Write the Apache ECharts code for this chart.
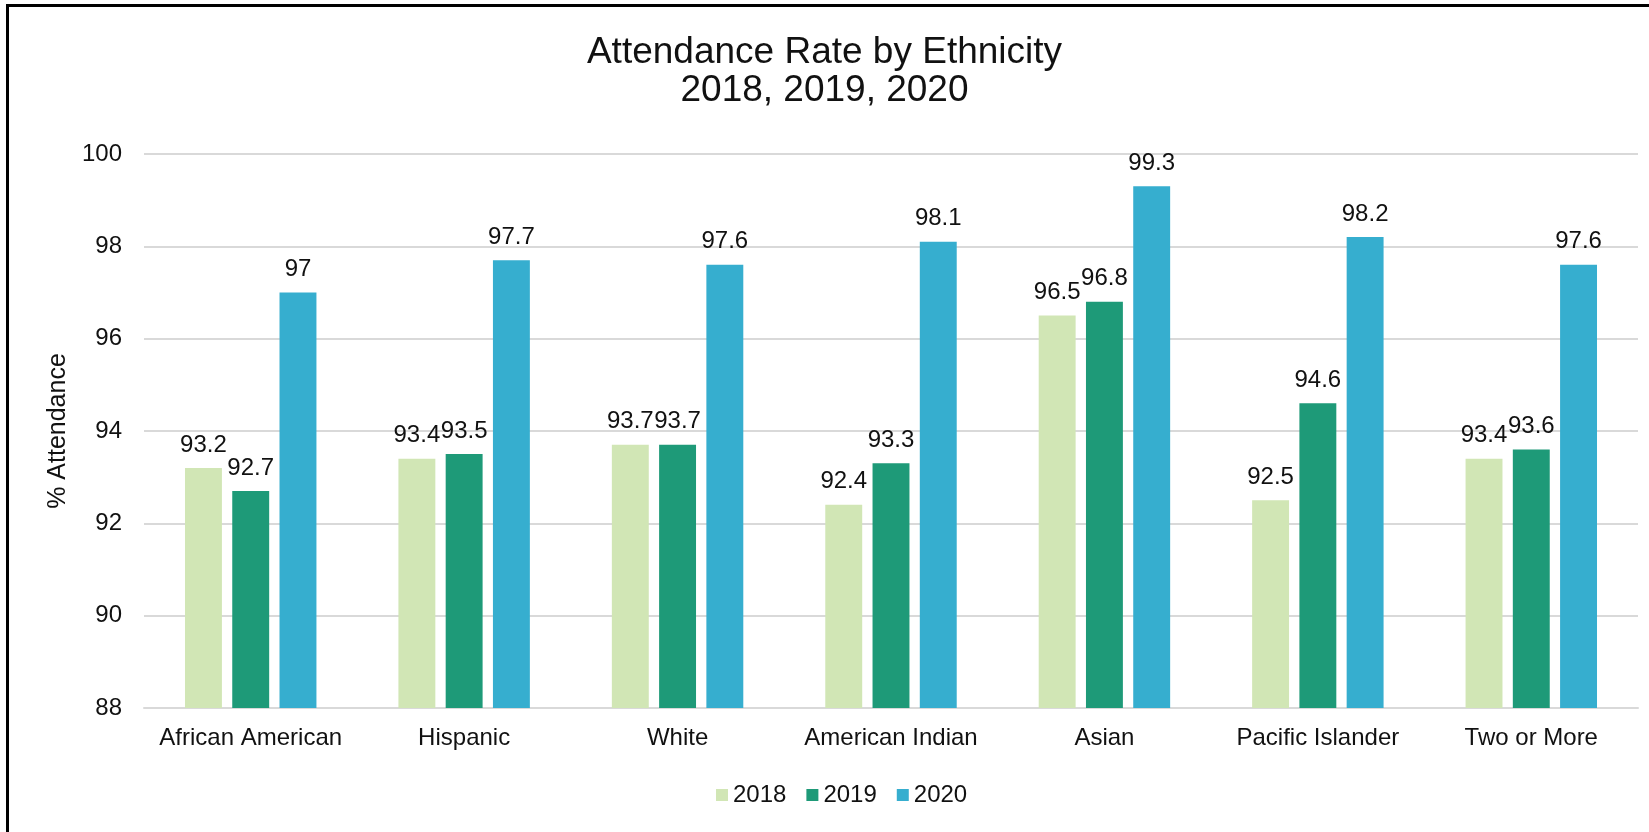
<!DOCTYPE html>
<html>
<head>
<meta charset="utf-8">
<title>Attendance Rate by Ethnicity</title>
<script src="https://cdn.jsdelivr.net/npm/echarts@6/dist/echarts.min.js"></script>
<style>
  html, body { margin: 0; padding: 0; background: #fff; }
  #att_chart { width: 1649px; height: 832px; }
</style>
</head>
<body>
<div id="att_chart"></div>
<script>
  // categories + values
  let groups = ['African American', 'Hispanic', 'White', 'American Indian', 'Asian', 'Pacific Islander', 'Two or More'];
  let years = ['2018', '2019', '2020'];
  let rate2018 = [93.2, 93.4, 93.7, 92.4, 96.5, 92.5, 93.4];
  let rate2019 = [92.7, 93.5, 93.7, 93.3, 96.8, 94.6, 93.6];
  let rate2020 = [97, 97.7, 97.6, 98.1, 99.3, 98.2, 97.6];

  let color = ['#d1e6b5', '#1e9a78', '#36aecf'];
  let font = "'Liberation Sans', Arial, sans-serif";

  let chart = echarts.init(document.getElementById('att_chart'));

  function barSeries(name, data, idx) {
    return {
      name: name,
      type: 'bar',
      barWidth: '17.3%',
      barGap: '28%',
      itemStyle: { color: color[idx] },
      label: {
        show: true,
        position: 'top',
        distance: 11,
        color: '#111',
        fontSize: 24,
        fontFamily: font
      },
      data: data
    };
  }

  let option = {
    backgroundColor: '#fff',
    animation: false,
    title: {
      text: 'Attendance Rate by Ethnicity\n2018, 2019, 2020',
      left: 'center',
      top: 29,
      textStyle: {
        color: '#111',
        fontSize: 37,
        lineHeight: 38,
        fontWeight: 'normal',
        fontFamily: font
      }
    },
    legend: {
      bottom: 20,
      left: 711,
      icon: 'rect',
      itemWidth: 12,
      itemHeight: 12,
      itemGap: 20,
      textStyle: { color: '#111', fontSize: 24, fontFamily: font },
      data: years
    },
    grid: {
      left: 144,
      right: 11,
      top: 154,
      bottom: 124
    },
    xAxis: {
      type: 'category',
      data: groups,
      axisTick: { show: false },
      axisLine: { lineStyle: { color: '#d9d9d9', width: 2 } },
      axisLabel: {
        interval: 0,
        margin: 18,
        color: '#111',
        fontSize: 24,
        fontFamily: font
      }
    },
    yAxis: {
      type: 'value',
      min: 88,
      max: 100,
      interval: 2,
      name: '% Attendance',
      nameLocation: 'middle',
      nameGap: 71,
      nameTextStyle: { color: '#111', fontSize: 25, fontFamily: font },
      axisLine: { show: false },
      axisTick: { show: false },
      splitLine: { lineStyle: { color: '#d9d9d9', width: 2 } },
      axisLabel: {
        margin: 22,
        color: '#111',
        fontSize: 24,
        fontFamily: font
      }
    },
    // black frame, only top and left edges show in the original
    graphic: [{
      type: 'rect',
      silent: true,
      shape: { x: 7.5, y: 5.5, width: 1800, height: 1000 },
      style: { fill: 'none', stroke: '#000', lineWidth: 3 }
    }],
    series: [
      barSeries('2018', rate2018, 0),
      barSeries('2019', rate2019, 1),
      barSeries('2020', rate2020, 2)
    ]
  };

  chart.setOption(option);
</script>
</body>
</html>
